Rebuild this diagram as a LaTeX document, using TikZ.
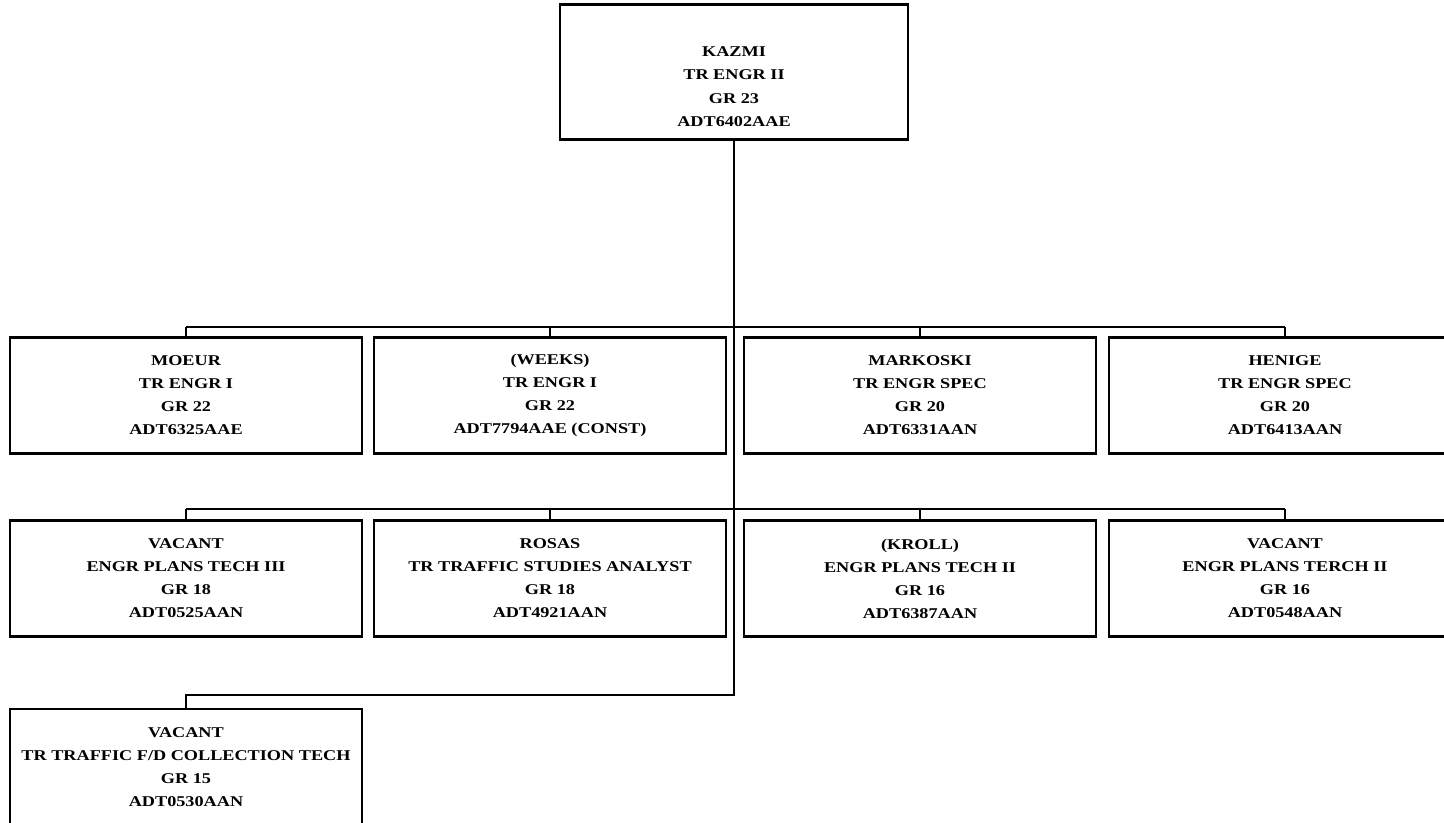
\documentclass[tikz,border=0pt]{standalone}
\usepackage{fontspec}
\setmainfont{Liberation Serif}[FakeStretch=1.22]
\usetikzlibrary{positioning}

\begin{document}
\begin{tikzpicture}[node distance={3mm}, line width=1.2pt,
    post/.style = {draw, rectangle, minimum width=7.04cm, minimum height=2.32cm, inner sep=0pt, outer sep=0pt, align=center, font=\bfseries\fontsize{8.5pt}{13.1pt}\selectfont},
    boss/.style = {post, minimum width=6.96cm, minimum height=2.7cm}]
    \useasboundingbox (0,0) rectangle (28.88,-16.44);
    % Disegna i nodi dell'organigramma

    \node[boss] (kazmi) at (14.68,-1.44) {\strut\\KAZMI\\TR ENGR II\\GR 23\\ADT6402AAE};

    \node[post] (moeur) at (3.72,-7.91) {MOEUR\\TR ENGR I\\GR 22\\ADT6325AAE};
    \node[post] (weeks) [right=0.24cm of moeur] {(WEEKS)\\TR ENGR I\\GR 22\\ADT7794AAE (CONST)};
    \node[post] (markoski) [right=0.36cm of weeks] {MARKOSKI\\TR ENGR SPEC\\GR 20\\ADT6331AAN};
    \node[post] (henige) [right=0.26cm of markoski] {HENIGE\\TR ENGR SPEC\\GR 20\\ADT6413AAN};

    \node[post] (vacant1) [below=1.34cm of moeur] {VACANT\\ENGR PLANS TECH III\\GR 18\\ADT0525AAN};
    \node[post] (rosas) [below=1.34cm of weeks] {ROSAS\\TR TRAFFIC STUDIES ANALYST\\GR 18\\ADT4921AAN};
    \node[post] (kroll) [below=1.34cm of markoski] {(KROLL)\\ENGR PLANS TECH II\\GR 16\\ADT6387AAN};
    \node[post] (vacant2) [below=1.34cm of henige] {VACANT\\ENGR PLANS TERCH II\\GR 16\\ADT0548AAN};

    \node[post] (vacant3) [below=1.45cm of vacant1] {VACANT\\TR TRAFFIC F/D COLLECTION TECH\\GR 15\\ADT0530AAN};

    \coordinate (bus1) at (0,-6.54);
    \coordinate (bus2) at (0,-10.18);
    \coordinate (bus3) at (0,-13.9);
    % Disegna i collegamenti
    \draw (kazmi.south) -- (kazmi.south |- bus3) -| (vacant3.north);
    \draw (moeur.north |- bus1) -- (henige.north |- bus1);
    \draw (vacant1.north |- bus2) -- (vacant2.north |- bus2);
    \foreach \n in {moeur, weeks, markoski, henige}
        \draw (\n.north) -- (\n.north |- bus1);
    \foreach \n in {vacant1, rosas, kroll, vacant2}
        \draw (\n.north) -- (\n.north |- bus2);

\end{tikzpicture}
\end{document}
